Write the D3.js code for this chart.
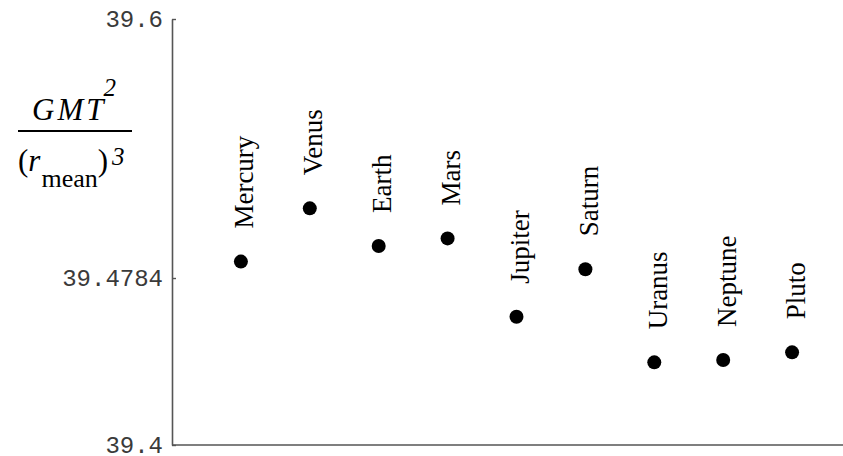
<!DOCTYPE html>
<html>
<head>
<meta charset="utf-8">
<script src="https://cdn.jsdelivr.net/npm/d3@7"></script>
<style>
  html, body { margin: 0; padding: 0; background: #fff; }
  svg { display: block; }
</style>
</head>
<body>
<svg id="chart" width="843" height="456"></svg>
<script>
// Kepler's third law constant GMT^2 / r^3 for each planet
const planets = ["Mercury", "Venus", "Earth", "Mars", "Jupiter", "Saturn", "Uranus", "Neptune", "Pluto"];
const ratios  = [39.4861, 39.5111, 39.4934, 39.4970, 39.4602, 39.4825, 39.4388, 39.4399, 39.4435];
const tickValues = [39.4, 39.4784, 39.6];
const tickLabels = ["39.4", "39.4784", "39.6"];

const svg = d3.select("#chart");
const W = 843, H = 456;
const plotLeft = 172, plotTop = 19, plotBottom = 445;

const x = d3.scaleLinear().domain([0, 9.739]).range([plotLeft, W]);
const y = d3.scaleLinear().domain([39.4, 39.6]).range([plotBottom, plotTop]);

const axisColor = "#555";

// vertical axis with inward ticks
const yAxis = d3.axisRight(y)
  .tickValues(tickValues)
  .tickSize(4)
  .tickSizeOuter(0)
  .tickFormat("");
const gy = svg.append("g").attr("transform", `translate(${plotLeft},0)`).call(yAxis);
gy.select(".domain").attr("stroke", axisColor).attr("stroke-width", 1.6);
gy.selectAll(".tick line").attr("stroke", axisColor).attr("stroke-width", 1.4);

// tick labels in monospace, right-aligned beside the axis
svg.append("g").selectAll("text")
  .data(tickValues)
  .join("text")
  .attr("x", plotLeft - 9)
  .attr("y", d => y(d))
  .attr("dy", "0.33em")
  .attr("text-anchor", "end")
  .attr("font-family", "'Liberation Mono', 'DejaVu Sans Mono', monospace")
  .attr("font-size", 24)
  .attr("fill", "#3a3a3a")
  .text((d, i) => tickLabels[i]);

// horizontal axis line along the bottom
svg.append("line")
  .attr("x1", plotLeft).attr("x2", W)
  .attr("y1", y(39.4)).attr("y2", y(39.4))
  .attr("stroke", axisColor).attr("stroke-width", 1.6);

// data points
const data = planets.map((p, i) => ({ name: p, i: i + 1, v: ratios[i] }));
svg.append("g").selectAll("circle")
  .data(data)
  .join("circle")
  .attr("cx", d => x(d.i))
  .attr("cy", d => y(d.v))
  .attr("r", 7)
  .attr("fill", "#000");

// rotated planet names above each point
svg.append("g").selectAll("text")
  .data(data)
  .join("text")
  .attr("transform", d => `translate(${x(d.i) + 12.5},${y(d.v) - 33}) rotate(-90)`)
  .attr("text-anchor", "start")
  .attr("font-family", "'Liberation Serif', 'Times New Roman', serif")
  .attr("font-size", 27)
  .attr("fill", "#000")
  .text(d => d.name);

// y-axis label: GMT^2 / (r_mean)^3
const lab = svg.append("g")
  .attr("font-family", "'Liberation Serif', 'Times New Roman', serif")
  .attr("fill", "#000");

const num = lab.append("text").attr("x", 32).attr("y", 120).attr("font-size", 31);
num.append("tspan").attr("font-style", "italic").attr("letter-spacing", 3).text("GMT");
num.append("tspan").attr("font-style", "italic").attr("font-size", 25).attr("dy", -24).attr("dx", -3).text("2");

lab.append("line")
  .attr("x1", 18).attr("x2", 132)
  .attr("y1", 131).attr("y2", 131)
  .attr("stroke", "#000").attr("stroke-width", 2);

const den = lab.append("text").attr("x", 18).attr("y", 171).attr("font-size", 31);
den.append("tspan").text("(");
den.append("tspan").attr("font-style", "italic").text("r");
den.append("tspan").attr("font-size", 26).attr("dy", 16).attr("dx", 1).text("mean");
den.append("tspan").attr("dy", -16).text(")");
den.append("tspan").attr("font-style", "italic").attr("font-size", 25).attr("dy", -6).attr("dx", 4).text("3");
</script>
</body>
</html>
